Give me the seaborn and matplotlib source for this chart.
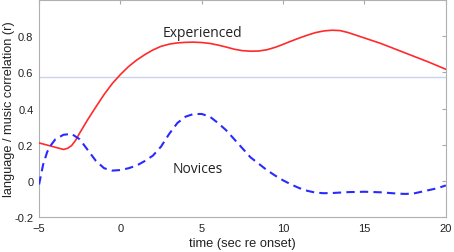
import numpy as np
import pandas as pd
import matplotlib
matplotlib.use('Agg')
import matplotlib.pyplot as plt
import seaborn as sns

# Valores
t_exp = [-5, -4.5, -4, -3.5, -3.25, -3, -2.75, -2.5, -2, -1.5, -1, -0.5, 0, 0.5, 1, 1.5, 2,
         2.5, 3, 3.5, 4, 4.5, 5, 5.5, 6, 6.5, 7, 7.5, 8, 8.5, 9, 9.5, 10, 10.5, 11, 11.5, 12,
         12.5, 13, 13.5, 14, 15, 16, 17, 18, 19, 20]
r_exp = [0.21, 0.198, 0.186, 0.174, 0.18, 0.195, 0.225, 0.265, 0.34, 0.41, 0.478, 0.538,
         0.588, 0.632, 0.668, 0.698, 0.724, 0.744, 0.756, 0.763, 0.766, 0.767, 0.765, 0.76,
         0.751, 0.74, 0.728, 0.72, 0.717, 0.718, 0.725, 0.738, 0.755, 0.773, 0.79, 0.806,
         0.82, 0.829, 0.833, 0.831, 0.82, 0.79, 0.76, 0.725, 0.69, 0.655, 0.617]

t_nov = [-5, -4.75, -4.5, -4.25, -4, -3.5, -3, -2.5, -2, -1.5, -1, -0.5, 0, 0.5, 1, 1.5, 2,
         2.5, 3, 3.5, 4, 4.5, 5, 5.5, 6, 6.5, 7, 7.5, 8, 8.5, 9, 9.5, 10, 10.5, 11, 11.5, 12,
         12.5, 13, 14, 15, 16, 17, 17.5, 18, 18.5, 19, 19.5, 20]
r_nov = [-0.02, 0.09, 0.16, 0.20, 0.23, 0.255, 0.26, 0.23, 0.17, 0.11, 0.07, 0.057, 0.06,
         0.07, 0.085, 0.11, 0.14, 0.19, 0.26, 0.32, 0.355, 0.37, 0.37, 0.355, 0.32, 0.28,
         0.23, 0.18, 0.13, 0.095, 0.06, 0.03, 0.003, -0.02, -0.04, -0.055, -0.065, -0.068,
         -0.067, -0.062, -0.06, -0.063, -0.07, -0.072, -0.07, -0.06, -0.05, -0.04, -0.025]

umbral = 0.577

xticks = [-5, 0, 5, 10, 15, 20]
yticks = [-0.2, 0, 0.2, 0.4, 0.6, 0.8]
ytick_labels = ['-0.2', '0', '0.2', '0.4', '0.6', '0.8']

sns.set_style('white')
plt.rcParams['font.family'] = ['Liberation Sans', 'DejaVu Sans']

fig = plt.figure(figsize=(4.54, 2.53), dpi=100)
ax = fig.add_axes([0.086, 0.138, 0.896, 0.858])

ax.axhline(umbral, color='#c9d5ee', lw=1.0, zorder=1)
sns.lineplot(x=t_exp, y=r_exp, ax=ax, color='#ff2a2a', lw=1.2, zorder=3)
sns.lineplot(x=t_nov, y=r_nov, ax=ax, color='#2a2aff', lw=1.5, zorder=3)
ax.lines[-1].set_dashes([4, 2.5])

ax.set_xlim(-5, 20)
ax.set_ylim(-0.2, 1.0)
ax.set_xticks(xticks)
ax.set_yticks(yticks)
ax.set_yticklabels(ytick_labels)
ax.tick_params(direction='in', top=True, right=True, length=3, color='#a8a8a8',
               labelsize=8, pad=4, labelcolor='#222222')
for s in ax.spines.values():
    s.set_color('#b0b0b0')
    s.set_linewidth(0.8)

ax.set_xlabel('time (sec re onset)', fontsize=9.3, labelpad=3, color='#222222')
ax.set_ylabel('language / music correlation (r)', fontsize=9.2, color='#222222')
ax.yaxis.set_label_coords(-0.058, 0.5)

ax.text(5.05, 0.82, 'Experienced', ha='center', va='center', fontsize=10,
        family=['Open Sans', 'DejaVu Sans'], color='#222222')
ax.text(4.75, 0.067, 'Novices', ha='center', va='center', fontsize=10,
        family=['Open Sans', 'DejaVu Sans'], color='#222222')

fig.savefig('out.png', dpi=100)
